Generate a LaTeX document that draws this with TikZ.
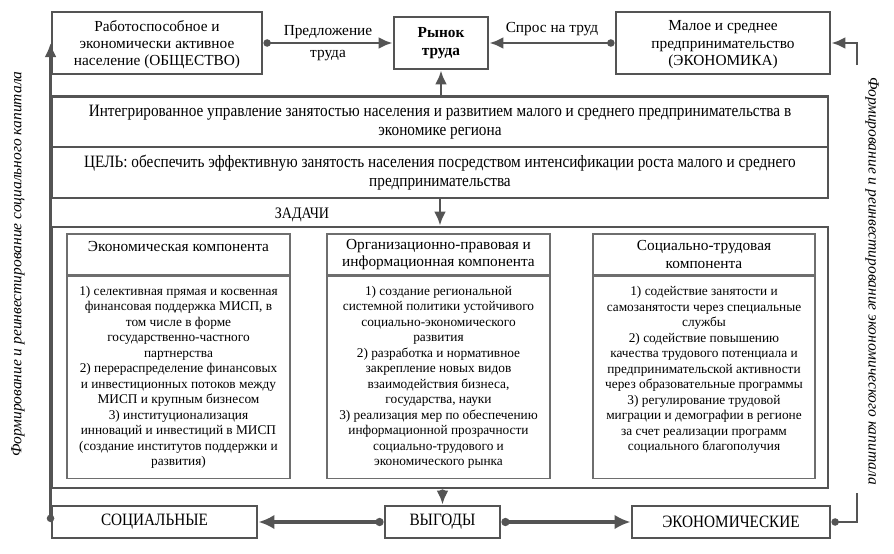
\documentclass[tikz,border=0pt]{standalone}
\usepackage{fontspec}
\setmainfont{Liberation Serif}
\newfontfamily\narrowfont{Liberation Serif}[FakeStretch=0.88]
\usetikzlibrary{arrows.meta, positioning, calc}
\definecolor{frame}{rgb}{0.33,0.33,0.33}
\newdimen\px \px=0.75pt

\tikzset{
  box/.style={draw=frame, line width=2.2pt, fill=white, align=center, inner sep=1pt},
  part/.style={draw=frame!85, line width=1pt, align=center, inner sep=1pt,
    font=\fontsize{11.5}{13}\selectfont},
  partbody/.style={part, font=\fontsize{10}{11.6}\selectfont},
  link/.style={draw=frame, line width=2.2pt, {Circle[length=5.5pt]}-{Latex[length=10.5pt,width=9pt]}},
  plain/.style={draw=frame, line width=2.2pt, -{Latex[length=10.5pt,width=9pt]}},
  wide/.style={draw=frame, line width=3.4pt, {Circle[length=6pt]}-{Latex[length=12pt,width=11pt]}},
  sidetext/.style={font=\fontsize{11.6}{14}\selectfont\itshape}
}

\begin{document}
\begin{tikzpicture}[x=0.75pt,y=-0.75pt]
\useasboundingbox (0,0) rectangle (894,554);

% top row
\node[box, minimum width=210\px, minimum height=62\px, text depth=0pt, font=\fontsize{11.5}{13}\selectfont]
  (society) at (157,43) {Работоспособное и\\экономически активное\\население (ОБЩЕСТВО)};
\node[box, minimum width=94\px, minimum height=52\px, font=\fontsize{11.5}{13}\selectfont\bfseries]
  (market) at (441,43) {Рынок\\труда};
\node[box, minimum width=214\px, minimum height=62\px, text depth=0pt, font=\fontsize{11.5}{13}\selectfont]
  (economy) at (723,43) {Малое и среднее\\предпринимательство\\(ЭКОНОМИКА)};

% management and goal
\node[box, minimum width=776\px, minimum height=51\px, font=\narrowfont\fontsize{13}{14}\selectfont]
  (manage) at (440,122) {Интегрированное управление занятостью населения и развитием малого и среднего предпринимательства в\\экономике региона};
\node[box, minimum width=776\px, minimum height=51\px, font=\narrowfont\fontsize{13}{14}\selectfont]
  (goal) at (440,172.5) {ЦЕЛЬ: обеспечить эффективную занятость населения посредством интенсификации роста малого и среднего\\предпринимательства};

% tasks
\node[box, minimum width=776\px, minimum height=261\px] (tasks) at (440,357.5) {};
\node[font=\narrowfont\fontsize{12}{13}\selectfont] (tasklabel) at (302,215) {ЗАДАЧИ};

\node[part, minimum width=223\px, minimum height=41\px, text depth=12pt] (head1) at (178.5,254.5) {Экономическая компонента};
\node[partbody, minimum width=223\px, minimum height=202\px, below=0pt of head1] (body1)
  {1) селективная прямая и косвенная\\финансовая поддержка МИСП, в\\том числе в форме\\государственно-частного\\партнерства\\
   2) перераспределение финансовых\\и инвестиционных потоков между\\МИСП и крупным бизнесом\\
   3) институционализация\\инноваций и инвестиций в МИСП\\(создание институтов поддержки и\\развития)};

\node[part, minimum width=223\px, minimum height=41\px] (head2) at (438.5,254.5) {Организационно-правовая и\\информационная компонента};
\node[partbody, minimum width=223\px, minimum height=202\px, below=0pt of head2] (body2)
  {1) создание региональной\\системной политики устойчивого\\социально-экономического\\развития\\
   2) разработка и нормативное\\закрепление новых видов\\взаимодействия бизнеса,\\государства, науки\\
   3) реализация мер по обеспечению\\информационной прозрачности\\социально-трудового и\\экономического рынка};

\node[part, minimum width=222\px, minimum height=41\px] (head3) at (704,254.5) {Социально-трудовая\\компонента};
\node[partbody, minimum width=222\px, minimum height=202\px, text depth=13pt, below=0pt of head3] (body3)
  {1) содействие занятости и\\самозанятости через специальные\\службы\\
   2) содействие повышению\\качества трудового потенциала и\\предпринимательской активности\\через образовательные программы\\
   3) регулирование трудовой\\миграции и демографии в регионе\\за счет реализации программ\\социального благополучия};

% benefits
\node[box, minimum width=205\px, minimum height=32\px, font=\narrowfont\fontsize{13}{14}\selectfont]
  (social) at (154.5,522) {СОЦИАЛЬНЫЕ};
\node[box, minimum width=115\px, minimum height=32\px, font=\narrowfont\fontsize{13}{14}\selectfont]
  (benefit) at (442.5,522) {ВЫГОДЫ};
\node[box, minimum width=198\px, minimum height=32\px, font=\narrowfont\fontsize{13}{14}\selectfont]
  (economic) at (731,522) {ЭКОНОМИЧЕСКИЕ};

% side captions
\node[sidetext, rotate=90] (leftcap) at (18,264) {Формирование и реинвестирование социального капитала};
\node[sidetext, rotate=-90] (rightcap) at (872,281) {Формирование и реинвестирование экономического капитала};
\coordinate (rightlow) at (857,493);
\coordinate (righthigh) at (857,65);

% connectors
\draw[link] (society.east) -- node[align=center, font=\fontsize{11.5}{17}\selectfont] {Предложение\\труда} (market.west);
\draw[link] (economy.west) -- node[above=1pt, font=\fontsize{11.5}{13}\selectfont] {Спрос на труд} (market.east);
\draw[plain] (manage.north -| market.south) -- (market.south);
\draw[plain] (goal.south) -- (goal.south |- tasks.north);
\draw[link] (tasks.south -| benefit.north) -- (benefit.north);
\draw[wide] (benefit.west) -- (social.east);
\draw[wide] (benefit.east) -- (economic.west);
\draw[link] (social.west) -- (social.west |- society.west);
\draw[draw=frame, line width=2.2pt, {Circle[length=5.5pt]}-] (economic.east) -| (rightlow);
\draw[plain] (righthigh) |- (economy.east);
\end{tikzpicture}
\end{document}
